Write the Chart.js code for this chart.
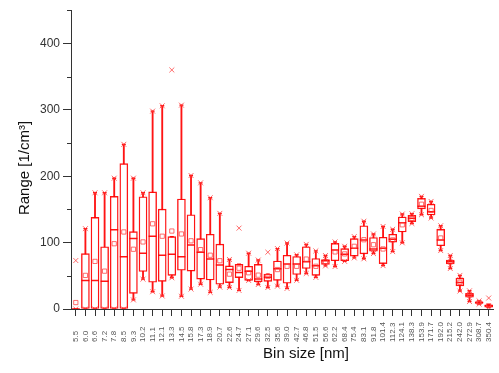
<!DOCTYPE html>
<html>
<head>
<meta charset="utf-8">
<script src="https://cdn.jsdelivr.net/npm/chart.js@4"></script>
<style>
  html, body { margin: 0; padding: 0; background: #ffffff; }
  #wrap { width: 499px; height: 373px; }
</style>
</head>
<body>
<div id="wrap"><canvas id="chart" width="499" height="373"></canvas></div>
<script>
// Particle count range per bin size: box = quartiles, whiskers, median, mean, extremes
const binLabels = ['5.5','6.0','6.6','7.2','7.8','8.5','9.3','10.2','11.1','12.1','13.3','14.5','15.8','17.3','18.9','20.7','22.6','24.7','27.1','29.6','32.5','35.6','39.0','42.7','46.8','51.5','56.6','62.2','68.4','75.4','83.1','91.8','101.4','112.3','124.1','138.3','153.9','171.7','192.0','215.2','242.0','272.9','308.7','350.4'];

const whiskerLow  = [0,0,0,0,0,0,13.7,45,26,19.6,47,19.2,30,37.3,25,32.9,32.4,28,43,36.9,32.4,34.4,31,43.2,53.5,47.6,64.9,64,71.7,77,75.6,83.5,65.3,86.4,99.7,128.8,142,137,88,61,27,11.2,7.4,2.4];
const quartile1   = [0,0,0,0,0,0,23.6,56.5,40.3,41.7,50.6,58.4,57,45,43.7,37.3,39.8,47.2,43.2,41,41.7,43.2,38.8,52,61,50.6,67.3,72.7,72.7,79.6,83,87,68.3,100.7,116,131.7,150.9,141.6,95.3,67.8,34.8,17.7,8.3,2.9];
const medianVal   = [0,43,43,41.7,119.5,78.6,106,84,109.6,81,82.6,78.6,96.3,85.5,75.2,66.4,59.4,55,57,45,48,60.5,67.8,67.8,71.2,65.3,72.7,89,82.6,91.4,104,90.4,91.4,105,130,136.6,154.9,146.5,104,71.2,39.8,20.6,9.7,4.9];
const quartile3   = [0,83.5,138,93.8,169.6,219,116.5,169,176.4,150.4,109,165.6,142,106,112.5,97.8,64.9,67.3,64.3,67.3,52.5,72.3,81,79,93.8,76,74.6,98.8,90.9,106,125.4,107.7,108,112.5,138.6,141,166.7,157.8,120,73.7,46.6,23.6,10.8,6.3];
const whiskerHigh = [0,121,175,175,197,248,197,175,298,306,109,307,201,190,167.6,144,74.6,67.3,84,73.7,52.5,91,99.3,81.6,97.3,87.5,80.5,101,94.4,109,132.2,113,124.3,120,143,143.5,169.6,162,125.4,80.5,50.6,27.4,12.2,6.3];
const meanVal     = [9.7,50.6,71.7,57,98.3,116,90,101,128.3,109.6,117.4,113,102.7,89.4,81,72.7,52.5,61.4,54.6,51,49,59.4,64.3,64.3,75.2,64.3,71.2,86,83,94.4,104.3,96.8,90.4,104,126.8,136.6,157.8,148.4,107,70.8,40.3,21,9.7,4.9];
const extremeHigh = [73,121,175,175,197,248,197,175,298,306,360,307,201,190,167.6,144,74.6,121.8,84,73.7,85.5,91,99.3,81.6,97.3,87.5,80.5,101,94.4,109,132.2,113,124.3,120,143,143.5,169.6,162,125.4,80.5,50.6,27.4,12.2,16.5];
const extremeLow  = [0,0,0,0,0,0,13.7,45,26,19.6,47,19.2,30,37.3,25,32.9,32.4,28,43,36.9,32.4,34.4,31,43.2,53.5,47.6,64.9,64,71.7,77,75.6,83.5,65.3,86.4,99.7,128.8,142,137,88,61,27,11.2,7.4,2.4];

const yMajorTicks = [0,100,200,300,400];
const yMinorTicks = [50,150,250,350,450];

const RED = 'rgba(255,0,0,0.92)';
const PINK = 'rgba(255,60,60,0.75)';
const AXIS = '#333333';
const FONT = '"Liberation Sans", Arial, sans-serif';

const pairs = (a, b) => a.map((v, i) => [v, b[i]]);

// axis decorations: minor ticks, rotated bin labels, axis titles
const axisDecor = {
  id: 'axisDecor',
  afterDraw(chart) {
    const { ctx, chartArea, scales: { x, y } } = chart;
    ctx.save();
    ctx.strokeStyle = AXIS;
    ctx.lineWidth = 1;
    yMinorTicks.forEach(v => {
      const py = Math.round(y.getPixelForValue(v)) + 0.5;
      ctx.beginPath();
      ctx.moveTo(chartArea.left - 4, py);
      ctx.lineTo(chartArea.left, py);
      ctx.stroke();
    });

    ctx.fillStyle = '#555555';
    ctx.font = '8px ' + FONT;
    ctx.textAlign = 'left';
    ctx.textBaseline = 'middle';
    binLabels.forEach((lab, i) => {
      const px = x.getPixelForValue(i);
      ctx.save();
      ctx.translate(px, 342);
      ctx.rotate(-Math.PI / 2);
      ctx.fillText(lab, 0, 0);
      ctx.restore();
    });

    ctx.fillStyle = '#111111';
    ctx.font = '15px ' + FONT;
    ctx.textAlign = 'center';
    ctx.textBaseline = 'middle';
    ctx.fillText('Bin size [nm]', 306, 354);

    ctx.save();
    ctx.translate(25, 168);
    ctx.rotate(-Math.PI / 2);
    ctx.fillText('Range [1/cm³]', 0, 0);
    ctx.restore();
    ctx.restore();
  }
};

new Chart(document.getElementById('chart'), {
  type: 'bar',
  data: {
    labels: binLabels,
    datasets: [
      {
        label: 'whiskers',
        data: pairs(whiskerLow, whiskerHigh),
        backgroundColor: RED,
        borderWidth: 0,
        barThickness: 1.2,
        grouped: false,
        order: 5
      },
      {
        label: 'box',
        data: pairs(quartile1, quartile3),
        backgroundColor: '#ffffff',
        borderColor: RED,
        borderWidth: 1.4,
        borderSkipped: false,
        barThickness: 8,
        grouped: false,
        order: 4
      },
      {
        type: 'line',
        label: 'median',
        data: medianVal,
        showLine: false,
        pointStyle: 'line',
        pointRadius: 4,
        borderColor: RED,
        borderWidth: 1.5,
        order: 3
      },
      {
        type: 'line',
        label: 'caps high',
        data: whiskerHigh,
        showLine: false,
        pointStyle: 'line',
        pointRadius: 2,
        borderColor: RED,
        borderWidth: 1.4,
        order: 3
      },
      {
        type: 'line',
        label: 'caps low',
        data: whiskerLow,
        showLine: false,
        pointStyle: 'line',
        pointRadius: 2,
        borderColor: RED,
        borderWidth: 1.4,
        order: 3
      },
      {
        type: 'line',
        label: 'mean',
        data: meanVal,
        showLine: false,
        pointStyle: 'rect',
        pointRadius: 3,
        borderColor: PINK,
        backgroundColor: 'rgba(255,255,255,0)',
        borderWidth: 1,
        order: 2
      },
      {
        type: 'line',
        label: 'max',
        data: extremeHigh,
        showLine: false,
        pointStyle: 'crossRot',
        pointRadius: 3.5,
        borderColor: PINK,
        borderWidth: 1,
        order: 1
      },
      {
        type: 'line',
        label: 'min',
        data: extremeLow,
        showLine: false,
        pointStyle: 'crossRot',
        pointRadius: 3.5,
        borderColor: PINK,
        borderWidth: 1,
        order: 1
      }
    ]
  },
  options: {
    responsive: false,
    animation: false,
    devicePixelRatio: 1,
    layout: { padding: { top: 4, right: 2.5, bottom: 0, left: 0 } },
    plugins: { legend: { display: false }, tooltip: { enabled: false } },
    scales: {
      x: {
        type: 'category',
        offset: true,
        grid: { display: true, offset: false, drawOnChartArea: false, drawTicks: true, tickLength: 7, color: AXIS },
        border: { display: true, color: AXIS, width: 1 },
        ticks: { display: false },
        afterFit(scale) { scale.height = 64; }
      },
      y: {
        min: 0,
        max: 450,
        afterBuildTicks(scale) { scale.ticks = yMajorTicks.map(v => ({ value: v })); },
        grid: { display: true, drawOnChartArea: false, drawTicks: true, tickLength: 8, color: AXIS },
        border: { display: true, color: AXIS, width: 1 },
        ticks: { color: '#333333', padding: 3, font: { family: FONT, size: 12 } },
        afterFit(scale) { scale.width = 71; }
      }
    }
  },
  plugins: [axisDecor]
});
</script>
</body>
</html>
